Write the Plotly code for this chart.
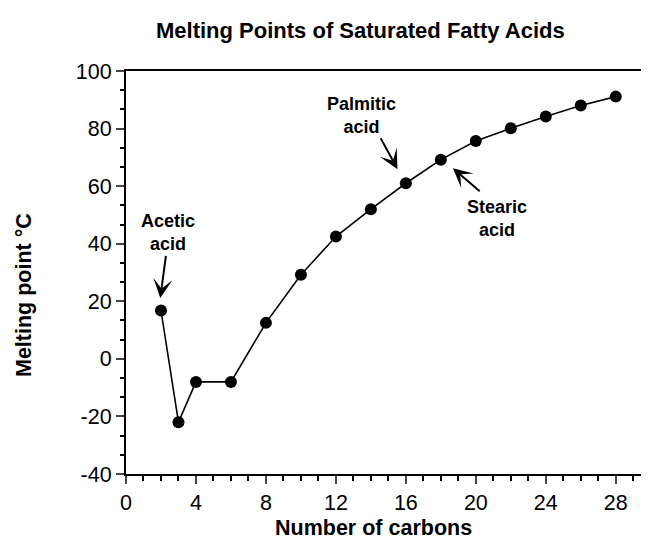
import plotly.graph_objects as go

carbons = [2, 3, 4, 6, 8, 10, 12, 14, 16, 18, 20, 22, 24, 26, 28]
melting_c = [16.8, -22, -8, -8, 12.5, 29.2, 42.5, 52, 61, 69.2, 75.7, 80.1, 84.2, 88, 91.1]

x_ticks = [0, 4, 8, 12, 16, 20, 24, 28]
y_ticks = [-40, -20, 0, 20, 40, 60, 80, 100]
y_tick_labels = ["-40", "-20", "0", "20", "40", "60", "80", "100"]

FONT = "Liberation Sans, Arial, Helvetica, sans-serif"

# the page body adds an 8px margin; the figure is sized so that the plot lands where the reference has it
BODY = 8

fig = go.Figure()
fig.add_trace(go.Scatter(
    x=carbons, y=melting_c, mode="lines+markers",
    line=dict(color="black", width=1.6),
    marker=dict(color="black", size=12),
    showlegend=False, hoverinfo="skip",
))

fig.update_xaxes(
    range=[0, 29.9], tickvals=x_ticks, ticks="outside", ticklen=8, tickwidth=2,
    showline=True, linewidth=2, linecolor="black", mirror=True,
    showgrid=False, zeroline=False,
    tickfont=dict(family=FONT, size=21.5, color="black"),
    minor=dict(dtick=1, ticks="outside", ticklen=5, tickwidth=1.6, tickcolor="black", showgrid=False),
)
fig.update_yaxes(
    range=[-40, 100], tickvals=y_ticks, ticktext=y_tick_labels, ticks="outside", ticklen=8, tickwidth=2,
    showline=True, linewidth=2, linecolor="black",
    showgrid=False, zeroline=False,
    tickfont=dict(family=FONT, size=21.5, color="black"),
    minor=dict(dtick=20/3, ticks="outside", ticklen=4, tickwidth=1.6, tickcolor="black", showgrid=False),
)

ann = []
ann.append(dict(text="<b>Melting Points of Saturated Fatty Acids</b>", xref="paper", yref="paper",
                x=(360 - 126) / 523, y=1 + (71 - 30) / 403, showarrow=False,
                font=dict(family=FONT, size=22, color="black"), xanchor="center", yanchor="middle"))
ann.append(dict(text="<b>Number of carbons</b>", xref="paper", yref="paper",
                x=(373 - 126) / 523, y=-(528 - 474) / 403, showarrow=False,
                font=dict(family=FONT, size=21.5, color="black"), xanchor="center", yanchor="middle"))
ann.append(dict(text="<b>Melting point °C</b>", xref="paper", yref="paper", textangle=-90,
                x=-(126 - 24) / 523, y=(474 - 295) / 403, showarrow=False,
                font=dict(family=FONT, size=21.5, color="black"), xanchor="center", yanchor="middle"))

labels = [
    ("Acetic<br>acid", 2.42, 44.0, (2.29, 36.1), (1.96, 21.1)),
    ("Palmitic<br>acid", 13.49, 84.6, (14.53, 77.0), (15.52, 65.9)),
    ("Stearic<br>acid", 21.2, 48.8, (20.25, 58.1), (18.69, 66.25)),
]
for txt, tx, ty, tail, tip in labels:
    ann.append(dict(text="<b>" + txt + "</b>", x=tx, y=ty, xref="x", yref="y", showarrow=False,
                    font=dict(family=FONT, size=18, color="black"), align="center"))
    ann.append(dict(text=" ", x=tip[0], y=tip[1], ax=tail[0], ay=tail[1], xref="x", yref="y",
                    axref="x", ayref="y", showarrow=True, arrowhead=3, arrowsize=1.6,
                    arrowwidth=2, arrowcolor="black", font=dict(size=1), borderpad=0))

fig.update_layout(
    width=649 - BODY, height=543 - BODY,
    margin=dict(l=126 - BODY, r=0, t=71 - BODY, b=543 - 474),
    plot_bgcolor="white", paper_bgcolor="white", annotations=ann,
    font=dict(family=FONT, color="black"),
)
fig.write_html("out.html")
